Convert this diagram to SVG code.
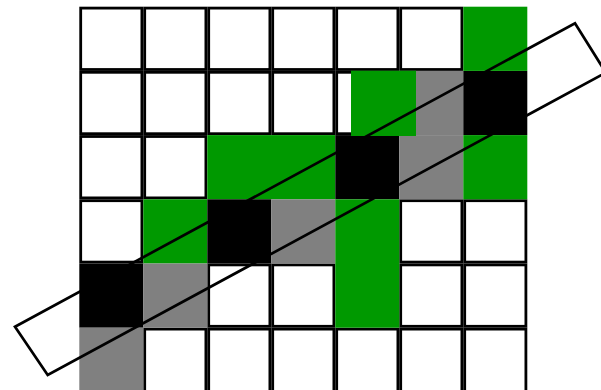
<svg xmlns="http://www.w3.org/2000/svg" width="601" height="390" viewBox="0 0 601 390">
<style>
.w{fill:#ffffff;stroke:#000000;stroke-width:2.8}
.g{fill:#009900}
.k{fill:#000000}
.s{fill:#808080}
.box{fill:none;stroke:#000000;stroke-width:2.7;stroke-linejoin:miter}
</style>
<rect width="601" height="390" fill="#ffffff"/>
<g id="white-cells">
<rect class="w" x="80.7" y="8.1" width="61.2" height="61.4"/>
<rect class="w" x="144.7" y="8.1" width="61.2" height="61.4"/>
<rect class="w" x="208.7" y="8.1" width="61.2" height="61.4"/>
<rect class="w" x="272.7" y="8.1" width="61.2" height="61.4"/>
<rect class="w" x="336.7" y="8.1" width="61.2" height="61.4"/>
<rect class="w" x="400.7" y="8.1" width="61.2" height="61.4"/>
<rect class="w" x="80.7" y="72.3" width="61.2" height="61.4"/>
<rect class="w" x="144.7" y="72.3" width="61.2" height="61.4"/>
<rect class="w" x="208.7" y="72.3" width="61.2" height="61.4"/>
<rect class="w" x="272.7" y="72.3" width="61.2" height="61.4"/>
<rect class="w" x="336.7" y="72.3" width="61.2" height="61.4"/>
<rect class="w" x="80.7" y="136.5" width="61.2" height="61.4"/>
<rect class="w" x="144.7" y="136.5" width="61.2" height="61.4"/>
<rect class="w" x="80.7" y="200.7" width="61.2" height="61.4"/>
<rect class="w" x="400.7" y="200.7" width="61.2" height="61.4"/>
<rect class="w" x="464.7" y="200.7" width="61.2" height="61.4"/>
<rect class="w" x="208.7" y="264.9" width="61.2" height="61.4"/>
<rect class="w" x="272.7" y="264.9" width="61.2" height="61.4"/>
<rect class="w" x="400.7" y="264.9" width="61.2" height="61.4"/>
<rect class="w" x="464.7" y="264.9" width="61.2" height="61.4"/>
<rect class="w" x="144.7" y="329.1" width="61.2" height="64"/>
<rect class="w" x="208.7" y="329.1" width="61.2" height="64"/>
<rect class="w" x="272.7" y="329.1" width="61.2" height="64"/>
<rect class="w" x="336.7" y="329.1" width="61.2" height="64"/>
<rect class="w" x="400.7" y="329.1" width="61.2" height="64"/>
<rect class="w" x="464.7" y="329.1" width="61.2" height="64"/>
</g>
<g id="filled-cells">
<rect class="s" x="399.3" y="70.9" width="64" height="64.2"/>
<rect class="k" x="463.3" y="70.9" width="64" height="64.2"/>
<rect class="g" x="463.3" y="6.7" width="64" height="64.2"/>
<rect class="g" x="207.3" y="135.1" width="128" height="64.2"/>
<rect class="k" x="335.3" y="135.1" width="64" height="64.2"/>
<rect class="s" x="399.3" y="135.1" width="64" height="64.2"/>
<rect class="g" x="463.3" y="135.1" width="64" height="64.2"/>
<rect class="g" x="143.3" y="199.3" width="64" height="64.2"/>
<rect class="k" x="207.3" y="199.3" width="64" height="64.2"/>
<rect class="s" x="271.3" y="199.3" width="64" height="64.2"/>
<rect class="g" x="335.3" y="199.3" width="64" height="128.4"/>
<rect class="k" x="79.3" y="263.5" width="64" height="64.2"/>
<rect class="s" x="143.3" y="263.5" width="64" height="64.2"/>
<rect class="s" x="79.3" y="327.7" width="64" height="64.2"/>
<rect class="g" x="351" y="70.7" width="65" height="65.3"/>
</g>
<g id="connectors">
<polygon class="box" points="15,326.7 575,23.3 605.8,72.6 47.7,375"/>
</g>
</svg>
